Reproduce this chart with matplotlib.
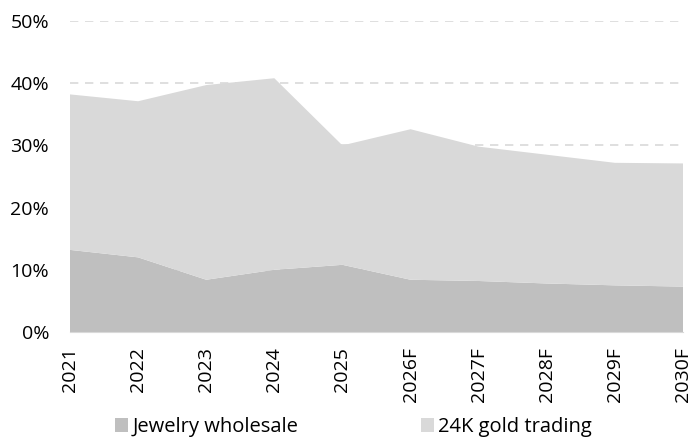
import matplotlib
matplotlib.use("Agg")
import matplotlib.pyplot as plt
from matplotlib.patches import Patch

years = ["2021", "2022", "2023", "2024", "2025", "2026F", "2027F", "2028F", "2029F", "2030F"]
jewelry_wholesale = [13.2, 12.0, 8.4, 10.0, 10.8, 8.4, 8.2, 7.8, 7.5, 7.3]
gold_trading_total = [38.2, 37.1, 39.7, 40.8, 30.0, 32.6, 29.8, 28.5, 27.2, 27.1]
gold_trading = [t - j for t, j in zip(gold_trading_total, jewelry_wholesale)]
yticks = [0, 10, 20, 30, 40, 50]

plt.rcParams['font.family'] = ['Open Sans', 'DejaVu Sans']

fig = plt.figure(figsize=(6.93, 4.4), dpi=100)
ax = fig.add_axes([70/693, 1-332/440, 613/693, 311/440])

x = list(range(len(years)))
c1 = "#bfbfbf"
c2 = "#d9d9d9"
ax.stackplot(x, jewelry_wholesale, gold_trading, colors=[c1, c2], zorder=2, linewidth=0)

ax.set_ylim(0, 50)
ax.set_xlim(0, len(years) - 1)
ax.set_yticks(yticks)
ax.set_yticklabels([f"{v}%" for v in yticks])
ax.set_xticks(x)
ax.set_xticklabels(years, rotation=90)
ax.yaxis.grid(True, linestyle=(0, (5, 4)), color="#d9d9d9", linewidth=1.2, zorder=1)
ax.set_axisbelow(True)
for s in ["top", "right", "left"]:
    ax.spines[s].set_visible(False)
ax.spines["bottom"].set_color("#d9d9d9")
ax.spines["bottom"].set_zorder(3)
ax.tick_params(axis="both", length=0, labelsize=14, colors="#000000")
ax.tick_params(axis="y", pad=15)
ax.tick_params(axis="x", pad=11)

handles = [Patch(facecolor=c1, label="Jewelry wholesale"), Patch(facecolor=c2, label="24K gold trading")]
fig.legend(handles=handles, loc="lower center", bbox_to_anchor=(0.51, -0.03), ncol=2, frameon=False,
           fontsize=14.5, handlelength=0.65, handleheight=0.65, handletextpad=0.2, columnspacing=6.1,
           borderpad=0.3)

fig.savefig("out.png", dpi=100)
